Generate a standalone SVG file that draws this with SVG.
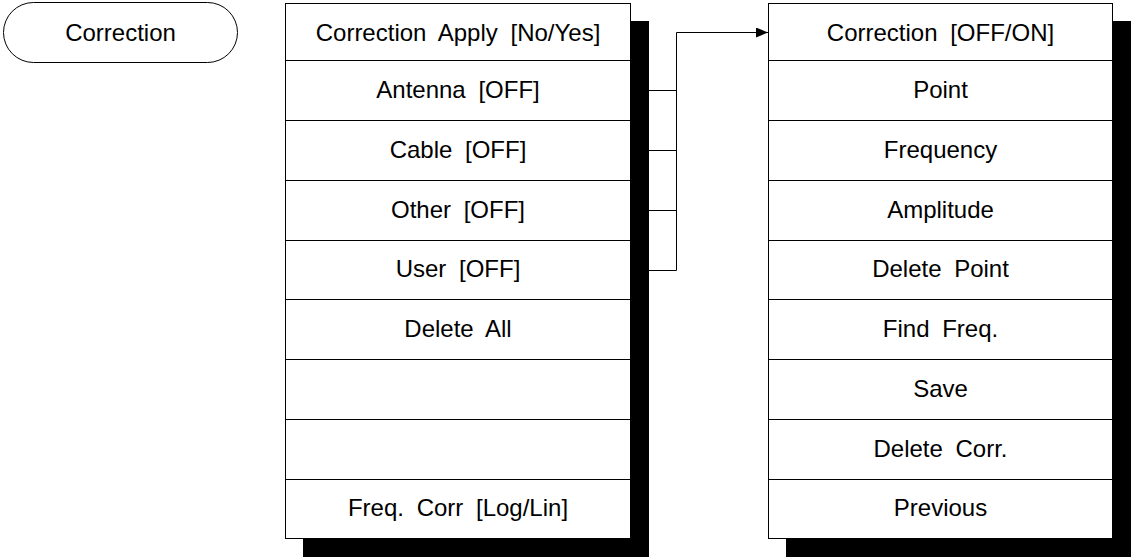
<svg xmlns="http://www.w3.org/2000/svg" width="1131" height="557" viewBox="0 0 1131 557">
  <defs>
    <marker id="arrow" markerWidth="12" markerHeight="10" refX="12" refY="5" orient="auto" markerUnits="userSpaceOnUse">
      <path d="M0,0 L12,5 L0,10 Z" fill="#000"/>
    </marker>
    <style>
      .box { fill: #fff; stroke: #000; stroke-width: 1; }
      .shadow { fill: #000; }
      .div { stroke: #000; stroke-width: 1; fill: none; }
      .lbl { font-family: "Liberation Sans", Arial, sans-serif; font-size: 24px; fill: #000; text-anchor: middle; word-spacing: 6px; }
      .wire { stroke: #000; stroke-width: 1; fill: none; }
    </style>
  </defs>
  <rect width="1131" height="557" fill="#fff"/>

  <!-- start key -->
  <g id="correction-key">
    <rect class="box" x="3.5" y="2.5" width="234" height="60" rx="30" ry="30"/>
    <text class="lbl" x="120.5" y="41">Correction</text>
  </g>

  <!-- main correction menu -->
  <g id="menu-correction">
    <rect class="shadow" x="303" y="21" width="346" height="536"/>
    <rect class="box" x="285.5" y="3.5" width="345" height="535"/>
    <path class="div" d="M285.5,60.5 H630.5 M285.5,120.5 H630.5 M285.5,180.5 H630.5 M285.5,240.5 H630.5 M285.5,299.5 H630.5 M285.5,359.5 H630.5 M285.5,419.5 H630.5 M285.5,479.5 H630.5"/>
    <text class="lbl" x="458" y="41">Correction Apply [No/Yes]</text>
    <text class="lbl" x="458" y="98">Antenna [OFF]</text>
    <text class="lbl" x="458" y="158">Cable [OFF]</text>
    <text class="lbl" x="458" y="218">Other [OFF]</text>
    <text class="lbl" x="458" y="277">User [OFF]</text>
    <text class="lbl" x="458" y="337">Delete All</text>
    <text class="lbl" x="458" y="516">Freq. Corr [Log/Lin]</text>
  </g>

  <!-- table editing submenu -->
  <g id="menu-table">
    <rect class="shadow" x="786" y="21" width="345" height="536"/>
    <rect class="box" x="768.5" y="3.5" width="344" height="535"/>
    <path class="div" d="M768.5,60.5 H1112.5 M768.5,120.5 H1112.5 M768.5,180.5 H1112.5 M768.5,240.5 H1112.5 M768.5,299.5 H1112.5 M768.5,359.5 H1112.5 M768.5,419.5 H1112.5 M768.5,479.5 H1112.5"/>
    <text class="lbl" x="940.5" y="41">Correction [OFF/ON]</text>
    <text class="lbl" x="940.5" y="98">Point</text>
    <text class="lbl" x="940.5" y="158">Frequency</text>
    <text class="lbl" x="940.5" y="218">Amplitude</text>
    <text class="lbl" x="940.5" y="277">Delete Point</text>
    <text class="lbl" x="940.5" y="337">Find Freq.</text>
    <text class="lbl" x="940.5" y="397">Save</text>
    <text class="lbl" x="940.5" y="457">Delete Corr.</text>
    <text class="lbl" x="940.5" y="516">Previous</text>
  </g>

  <!-- connectors from Antenna/Cable/Other/User to the submenu -->
  <g id="connectors">
    <path class="wire" d="M649,90.5 H676.5 M649,150.5 H676.5 M649,210.5 H676.5 M649,270.5 H676.5"/>
    <path class="wire" d="M676.5,270.5 V32.5 H768" marker-end="url(#arrow)"/>
  </g>
</svg>
